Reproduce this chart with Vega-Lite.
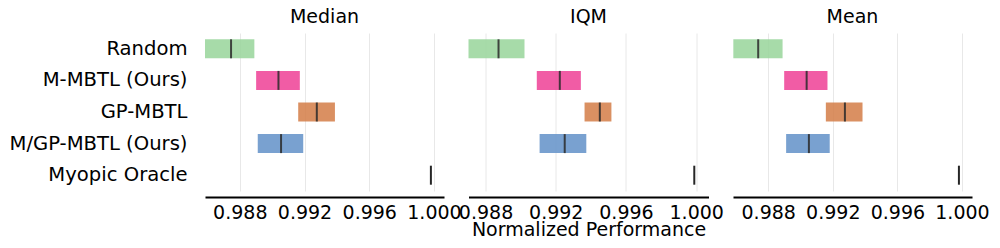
{
  "$schema": "https://vega.github.io/schema/vega-lite/v6.json",
  "background": "white",
  "padding": {"left": 9, "top": 8, "right": 5, "bottom": 5},
  "config": {
    "font": "DejaVu Sans",
    "view": {"stroke": null},
    "concat": {"spacing": 24.5},
    "title": {"fontSize": 19, "fontWeight": "normal", "color": "black", "font": "DejaVu Sans", "offset": 6},
    "axis": {"labelFont": "DejaVu Sans", "titleFont": "DejaVu Sans", "labelFontSize": 19, "titleFontSize": 19, "labelColor": "black", "titleColor": "black", "titleFontWeight": "normal"}
  },
  "data": {
    "values": [
      {"metric": "Median", "method": "Random", "lo": 0.98585, "hi": 0.98890, "est": 0.98746},
      {"metric": "Median", "method": "M-MBTL (Ours)", "lo": 0.98901, "hi": 0.99171, "est": 0.99039},
      {"metric": "Median", "method": "GP-MBTL", "lo": 0.99161, "hi": 0.99388, "est": 0.99276},
      {"metric": "Median", "method": "M/GP-MBTL (Ours)", "lo": 0.98911, "hi": 0.99192, "est": 0.99055},
      {"metric": "Median", "method": "Myopic Oracle", "lo": 0.99981, "hi": 0.99981, "est": 0.99981},
      {"metric": "IQM", "method": "Random", "lo": 0.98703, "hi": 0.99022, "est": 0.98874},
      {"metric": "IQM", "method": "M-MBTL (Ours)", "lo": 0.99092, "hi": 0.99343, "est": 0.99223},
      {"metric": "IQM", "method": "GP-MBTL", "lo": 0.99364, "hi": 0.99517, "est": 0.99451},
      {"metric": "IQM", "method": "M/GP-MBTL (Ours)", "lo": 0.99108, "hi": 0.99374, "est": 0.99251},
      {"metric": "IQM", "method": "Myopic Oracle", "lo": 0.99989, "hi": 0.99989, "est": 0.99989},
      {"metric": "Mean", "method": "Random", "lo": 0.98584, "hi": 0.98889, "est": 0.98738},
      {"metric": "Mean", "method": "M-MBTL (Ours)", "lo": 0.98899, "hi": 0.99167, "est": 0.99038},
      {"metric": "Mean", "method": "GP-MBTL", "lo": 0.99157, "hi": 0.99384, "est": 0.99275},
      {"metric": "Mean", "method": "M/GP-MBTL (Ours)", "lo": 0.98911, "hi": 0.99181, "est": 0.99052},
      {"metric": "Mean", "method": "Myopic Oracle", "lo": 0.99981, "hi": 0.99981, "est": 0.99981}
    ]
  },
  "bounds": "flush",
  "spacing": 24.5,
  "hconcat": [
    {
      "title": "Median",
      "width": 239,
      "height": 158,
      "transform": [{"filter": "datum.metric === 'Median'"}],
      "encoding": {
        "y": {"field": "method", "type": "nominal", "sort": ["Random", "M-MBTL (Ours)", "GP-MBTL", "M/GP-MBTL (Ours)", "Myopic Oracle"],
              "scale": {"paddingInner": 0.4, "paddingOuter": 0.2},
              "axis": {"title": null, "domain": false, "ticks": false, "labelPadding": 18, "labelFontSize": 19.6, "grid": false}}
      },
      "layer": [
        {
          "mark": {"type": "bar", "opacity": 0.85, "strokeWidth": 1},
          "encoding": {
            "x": {"field": "lo", "type": "quantitative",
                  "scale": {"domain": [0.98585, 1.00062], "nice": false, "zero": false},
                  "axis": {"title": null, "values": [0.988, 0.992, 0.996, 1.0], "format": ".3f", "ticks": false, "domainColor": "black", "domainWidth": 2.2, "offset": 6, "labelPadding": 6, "labelFlush": false, "grid": true, "gridColor": "#e8e8e8", "gridWidth": 1}},
            "x2": {"field": "hi"},
            "color": {"field": "method", "type": "nominal", "legend": null,
                      "scale": {"domain": ["Random", "M-MBTL (Ours)", "GP-MBTL", "M/GP-MBTL (Ours)", "Myopic Oracle"], "range": ["#98d59a", "#ee3f95", "#d47d46", "#6290c8", "#000000"]}}
          }
        },
        {
          "mark": {"type": "tick", "thickness": 2, "size": 19, "opacity": 0.85},
          "encoding": {
            "x": {"field": "est", "type": "quantitative"},
            "color": {"condition": {"test": "datum.method === 'Myopic Oracle'", "value": "#000000"}, "value": "#2a2a2a"}
          }
        }
      ]
    },
    {
      "title": "IQM",
      "width": 240,
      "height": 158,
      "transform": [{"filter": "datum.metric === 'IQM'"}],
      "encoding": {
        "y": {"field": "method", "type": "nominal", "sort": ["Random", "M-MBTL (Ours)", "GP-MBTL", "M/GP-MBTL (Ours)", "Myopic Oracle"],
              "scale": {"paddingInner": 0.4, "paddingOuter": 0.2}, "axis": null}
      },
      "layer": [
        {
          "mark": {"type": "bar", "opacity": 0.85, "strokeWidth": 1},
          "encoding": {
            "x": {"field": "lo", "type": "quantitative",
                  "scale": {"domain": [0.98703, 1.0007], "nice": false, "zero": false},
                  "axis": {"title": "Normalized Performance", "titlePadding": -2, "values": [0.988, 0.992, 0.996, 1.0], "format": ".3f", "ticks": false, "domainColor": "black", "domainWidth": 2.2, "offset": 6, "labelPadding": 6, "labelFlush": false, "grid": true, "gridColor": "#e8e8e8", "gridWidth": 1}},
            "x2": {"field": "hi"},
            "color": {"field": "method", "type": "nominal", "legend": null,
                      "scale": {"domain": ["Random", "M-MBTL (Ours)", "GP-MBTL", "M/GP-MBTL (Ours)", "Myopic Oracle"], "range": ["#98d59a", "#ee3f95", "#d47d46", "#6290c8", "#000000"]}}
          }
        },
        {
          "mark": {"type": "tick", "thickness": 2, "size": 19, "opacity": 0.85},
          "encoding": {
            "x": {"field": "est", "type": "quantitative"},
            "color": {"condition": {"test": "datum.method === 'Myopic Oracle'", "value": "#000000"}, "value": "#2a2a2a"}
          }
        }
      ]
    },
    {
      "title": "Mean",
      "width": 239,
      "height": 158,
      "transform": [{"filter": "datum.metric === 'Mean'"}],
      "encoding": {
        "y": {"field": "method", "type": "nominal", "sort": ["Random", "M-MBTL (Ours)", "GP-MBTL", "M/GP-MBTL (Ours)", "Myopic Oracle"],
              "scale": {"paddingInner": 0.4, "paddingOuter": 0.2}, "axis": null}
      },
      "layer": [
        {
          "mark": {"type": "bar", "opacity": 0.85, "strokeWidth": 1},
          "encoding": {
            "x": {"field": "lo", "type": "quantitative",
                  "scale": {"domain": [0.98582, 1.00062], "nice": false, "zero": false},
                  "axis": {"title": null, "values": [0.988, 0.992, 0.996, 1.0], "format": ".3f", "ticks": false, "domainColor": "black", "domainWidth": 2.2, "offset": 6, "labelPadding": 6, "labelFlush": false, "grid": true, "gridColor": "#e8e8e8", "gridWidth": 1}},
            "x2": {"field": "hi"},
            "color": {"field": "method", "type": "nominal", "legend": null,
                      "scale": {"domain": ["Random", "M-MBTL (Ours)", "GP-MBTL", "M/GP-MBTL (Ours)", "Myopic Oracle"], "range": ["#98d59a", "#ee3f95", "#d47d46", "#6290c8", "#000000"]}}
          }
        },
        {
          "mark": {"type": "tick", "thickness": 2, "size": 19, "opacity": 0.85},
          "encoding": {
            "x": {"field": "est", "type": "quantitative"},
            "color": {"condition": {"test": "datum.method === 'Myopic Oracle'", "value": "#000000"}, "value": "#2a2a2a"}
          }
        }
      ]
    }
  ]
}
